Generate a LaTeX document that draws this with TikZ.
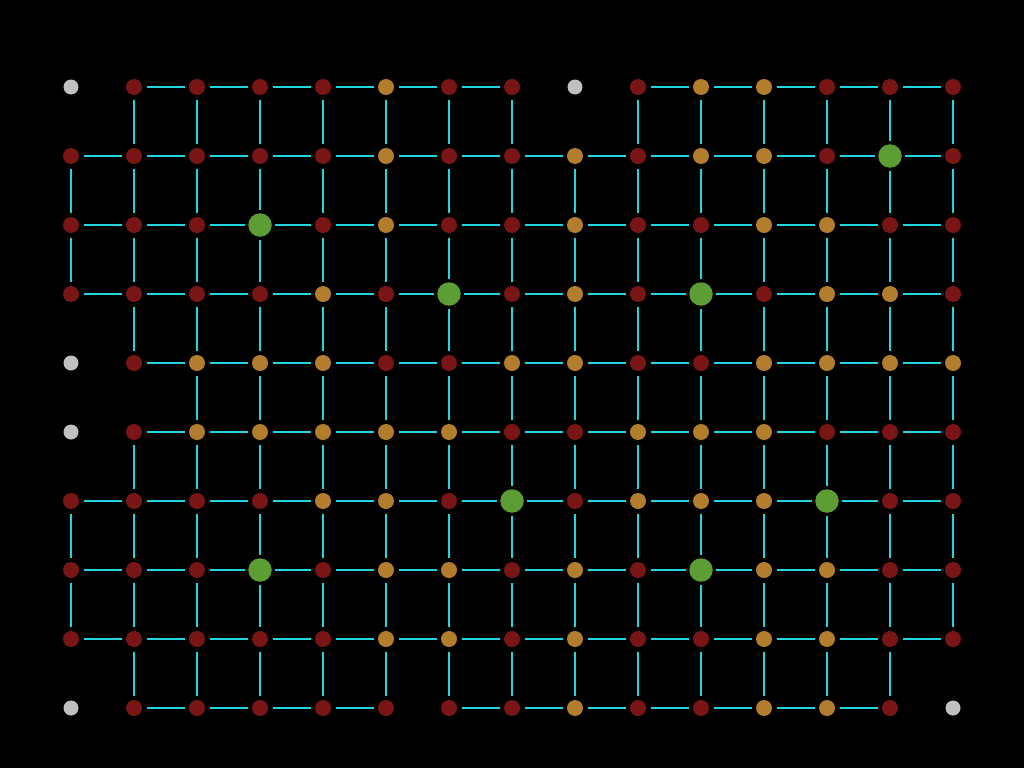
\documentclass[tikz,border=0pt]{standalone}
\begin{document}
\begin{tikzpicture}[x=1pt,y=-1pt,
  base/.style={circle,inner sep=0pt,outer sep=4.5pt,draw=none},
  nR/.style={base,fill=cR,minimum size=16pt},
  nO/.style={base,fill=cO,minimum size=16pt},
  nG/.style={base,fill=cG,minimum size=23.5pt,outer sep=3.5pt},
  nW/.style={base,fill=cW,minimum size=15pt},
  edge/.style={draw=cC,line width=2pt}]
\definecolor{cR}{HTML}{7A1515}
\definecolor{cO}{HTML}{B27D2C}
\definecolor{cG}{HTML}{5C9E33}
\definecolor{cW}{HTML}{C0C0C0}
\definecolor{cC}{HTML}{22D6E0}
\fill[black] (0,0) rectangle (1024,768);
\useasboundingbox (0,0) rectangle (1024,768);
\foreach \r/\list in {
  0/{W,R,R,R,R,O,R,R,W,R,O,O,R,R,R},
  1/{R,R,R,R,R,O,R,R,O,R,O,O,R,G,R},
  2/{R,R,R,G,R,O,R,R,O,R,R,O,O,R,R},
  3/{R,R,R,R,O,R,G,R,O,R,G,R,O,O,R},
  4/{W,R,O,O,O,R,R,O,O,R,R,O,O,O,O},
  5/{W,R,O,O,O,O,O,R,R,O,O,O,R,R,R},
  6/{R,R,R,R,O,O,R,G,R,O,O,O,G,R,R},
  7/{R,R,R,G,R,O,O,R,O,R,G,O,O,R,R},
  8/{R,R,R,R,R,O,O,R,O,R,R,O,O,R,R},
  9/{W,R,R,R,R,R,R,R,O,R,R,O,O,R,W}}{
  \foreach \t [count=\c from 0] in \list {
    \node[n\t] (n-\c-\r) at ({71+63*\c},{87+69*\r}) {};
  }
}
% horizontal connectors
\foreach \r/\cs in {
  0/{1,2,3,4,5,6,9,10,11,12,13},
  1/{0,1,2,3,4,5,6,7,8,9,10,11,12,13},
  2/{0,1,2,3,4,5,6,7,8,9,10,11,12,13},
  3/{0,1,2,3,4,5,6,7,8,9,10,11,12,13},
  4/{1,2,3,4,5,6,7,8,9,10,11,12,13},
  5/{1,2,3,4,5,6,7,8,9,10,11,12,13},
  6/{0,1,2,3,4,5,6,7,8,9,10,11,12,13},
  7/{0,1,2,3,4,5,6,7,8,9,10,11,12,13},
  8/{0,1,2,3,4,5,6,7,8,9,10,11,12,13},
  9/{1,2,3,4,6,7,8,9,10,11,12}}{
  \foreach \c in \cs {
    \pgfmathtruncatemacro\d{\c+1}
    \draw[edge] (n-\c-\r) -- (n-\d-\r);
  }
}
% vertical connectors
\foreach \c/\rs in {
  0/{1,2,6,7},
  1/{0,1,2,3,5,6,7,8},
  2/{0,1,2,3,4,5,6,7,8},
  3/{0,1,2,3,4,5,6,7,8},
  4/{0,1,2,3,4,5,6,7,8},
  5/{0,1,2,3,4,5,6,7,8},
  6/{0,1,2,3,4,5,6,7,8},
  7/{0,1,2,3,4,5,6,7,8},
  8/{1,2,3,4,5,6,7,8},
  9/{0,1,2,3,4,5,6,7,8},
  10/{0,1,2,3,4,5,6,7,8},
  11/{0,1,2,3,4,5,6,7,8},
  12/{0,1,2,3,4,5,6,7,8},
  13/{0,1,2,3,4,5,6,7,8},
  14/{0,1,2,3,4,5,6,7}}{
  \foreach \r in \rs {
    \pgfmathtruncatemacro\s{\r+1}
    \draw[edge] (n-\c-\r) -- (n-\c-\s);
  }
}
\end{tikzpicture}
\end{document}
